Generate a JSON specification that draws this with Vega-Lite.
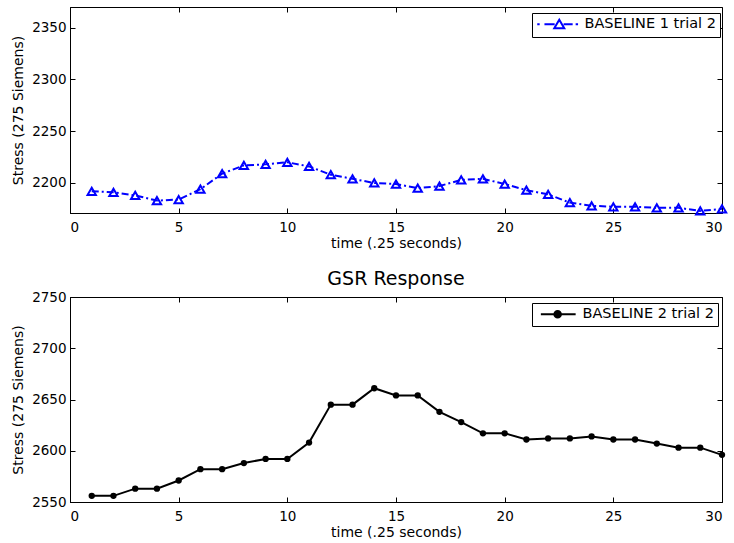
{
  "$schema": "https://vega.github.io/schema/vega-lite/v6.json",
  "background": "white",
  "padding": {"left": 11, "top": 6, "right": 5, "bottom": 5},
  "datasets": {
    "b1": [
      {"t": 1, "stress": 2192, "series": "BASELINE 1 trial 2"},
      {"t": 2, "stress": 2191, "series": "BASELINE 1 trial 2"},
      {"t": 3, "stress": 2188, "series": "BASELINE 1 trial 2"},
      {"t": 4, "stress": 2183, "series": "BASELINE 1 trial 2"},
      {"t": 5, "stress": 2184, "series": "BASELINE 1 trial 2"},
      {"t": 6, "stress": 2194, "series": "BASELINE 1 trial 2"},
      {"t": 7, "stress": 2209, "series": "BASELINE 1 trial 2"},
      {"t": 8, "stress": 2217, "series": "BASELINE 1 trial 2"},
      {"t": 9, "stress": 2218, "series": "BASELINE 1 trial 2"},
      {"t": 10, "stress": 2220, "series": "BASELINE 1 trial 2"},
      {"t": 11, "stress": 2216, "series": "BASELINE 1 trial 2"},
      {"t": 12, "stress": 2208, "series": "BASELINE 1 trial 2"},
      {"t": 13, "stress": 2204, "series": "BASELINE 1 trial 2"},
      {"t": 14, "stress": 2200, "series": "BASELINE 1 trial 2"},
      {"t": 15, "stress": 2199, "series": "BASELINE 1 trial 2"},
      {"t": 16, "stress": 2195, "series": "BASELINE 1 trial 2"},
      {"t": 17, "stress": 2197, "series": "BASELINE 1 trial 2"},
      {"t": 18, "stress": 2203, "series": "BASELINE 1 trial 2"},
      {"t": 19, "stress": 2204, "series": "BASELINE 1 trial 2"},
      {"t": 20, "stress": 2199, "series": "BASELINE 1 trial 2"},
      {"t": 21, "stress": 2193, "series": "BASELINE 1 trial 2"},
      {"t": 22, "stress": 2189, "series": "BASELINE 1 trial 2"},
      {"t": 23, "stress": 2181, "series": "BASELINE 1 trial 2"},
      {"t": 24, "stress": 2178, "series": "BASELINE 1 trial 2"},
      {"t": 25, "stress": 2177, "series": "BASELINE 1 trial 2"},
      {"t": 26, "stress": 2177, "series": "BASELINE 1 trial 2"},
      {"t": 27, "stress": 2176, "series": "BASELINE 1 trial 2"},
      {"t": 28, "stress": 2176, "series": "BASELINE 1 trial 2"},
      {"t": 29, "stress": 2173, "series": "BASELINE 1 trial 2"},
      {"t": 30, "stress": 2175, "series": "BASELINE 1 trial 2"}
    ],
    "b2": [
      {"t": 1, "stress": 2556, "series": "BASELINE 2 trial 2"},
      {"t": 2, "stress": 2556, "series": "BASELINE 2 trial 2"},
      {"t": 3, "stress": 2563, "series": "BASELINE 2 trial 2"},
      {"t": 4, "stress": 2563, "series": "BASELINE 2 trial 2"},
      {"t": 5, "stress": 2571, "series": "BASELINE 2 trial 2"},
      {"t": 6, "stress": 2582, "series": "BASELINE 2 trial 2"},
      {"t": 7, "stress": 2582, "series": "BASELINE 2 trial 2"},
      {"t": 8, "stress": 2588, "series": "BASELINE 2 trial 2"},
      {"t": 9, "stress": 2592, "series": "BASELINE 2 trial 2"},
      {"t": 10, "stress": 2592, "series": "BASELINE 2 trial 2"},
      {"t": 11, "stress": 2608, "series": "BASELINE 2 trial 2"},
      {"t": 12, "stress": 2645, "series": "BASELINE 2 trial 2"},
      {"t": 13, "stress": 2645, "series": "BASELINE 2 trial 2"},
      {"t": 14, "stress": 2661, "series": "BASELINE 2 trial 2"},
      {"t": 15, "stress": 2654, "series": "BASELINE 2 trial 2"},
      {"t": 16, "stress": 2654, "series": "BASELINE 2 trial 2"},
      {"t": 17, "stress": 2638, "series": "BASELINE 2 trial 2"},
      {"t": 18, "stress": 2628, "series": "BASELINE 2 trial 2"},
      {"t": 19, "stress": 2617, "series": "BASELINE 2 trial 2"},
      {"t": 20, "stress": 2617, "series": "BASELINE 2 trial 2"},
      {"t": 21, "stress": 2611, "series": "BASELINE 2 trial 2"},
      {"t": 22, "stress": 2612, "series": "BASELINE 2 trial 2"},
      {"t": 23, "stress": 2612, "series": "BASELINE 2 trial 2"},
      {"t": 24, "stress": 2614, "series": "BASELINE 2 trial 2"},
      {"t": 25, "stress": 2611, "series": "BASELINE 2 trial 2"},
      {"t": 26, "stress": 2611, "series": "BASELINE 2 trial 2"},
      {"t": 27, "stress": 2607, "series": "BASELINE 2 trial 2"},
      {"t": 28, "stress": 2603, "series": "BASELINE 2 trial 2"},
      {"t": 29, "stress": 2603, "series": "BASELINE 2 trial 2"},
      {"t": 30, "stress": 2596, "series": "BASELINE 2 trial 2"}
    ]
  },
  "resolve": {"scale": {"color": "independent"}, "legend": {"color": "independent"}},
  "spacing": 18,
  "vconcat": [
    {
      "width": 652,
      "height": 206,
      "data": {"name": "b1"},
      "resolve": {"axis": {"x": "independent", "y": "independent"}},
      "encoding": {
        "color": {
          "field": "series",
          "type": "nominal",
          "scale": {"domain": ["BASELINE 1 trial 2"], "range": ["#0000ff"]},
          "legend": {
            "title": null,
            "orient": "none",
            "legendX": 462,
            "legendY": 6,
            "padding": 4,
            "strokeColor": "black",
            "fillColor": "white",
            "cornerRadius": 0,
            "labelFont": "DejaVu Sans",
            "labelFontSize": 14.5,
            "labelColor": "black",
            "labelOffset": 34,
            "symbolSize": 144,
            "symbolStrokeWidth": 2,
            "symbolType": "M-1,0H-0.6M0.2,0H1.9M3.4,0H4.9M5.4,0H5.8M2.67,-0.75L3.5,0.65L1.84,0.65Z",
            "encode": {
              "symbols": {
                "update": {
                  "fill": {"value": "transparent"},
                  "stroke": {"value": "#0000ff"},
                  "strokeDash": {"value": []},
                  "opacity": {"value": 1}
                }
              }
            }
          }
        }
      },
      "layer": [
        {
          "mark": {"type": "line", "strokeWidth": 2, "strokeDash": [7, 3, 2, 3]},
          "encoding": {
            "x": {
              "field": "t",
              "type": "quantitative",
              "scale": {"domain": [0, 30], "nice": false, "zero": false},
              "axis": {"orient": "bottom", "values": [0, 5, 10, 15, 20, 25, 30], "format": "d", "title": "time (.25 seconds)"}
            },
            "y": {
              "field": "stress",
              "type": "quantitative",
              "scale": {"domain": [2171, 2370], "nice": false, "zero": false},
              "axis": {"orient": "left", "values": [2200, 2250, 2300, 2350], "format": "d", "title": "Stress (275 Siemens)"}
            }
          }
        },
        {
          "mark": {"type": "point", "shape": "triangle-up", "filled": false, "strokeWidth": 2, "size": 70, "opacity": 1},
          "encoding": {
            "x": {
              "field": "t",
              "type": "quantitative",
              "scale": {"domain": [0, 30], "nice": false, "zero": false},
              "axis": {"orient": "top", "values": [0, 5, 10, 15, 20, 25, 30], "labels": false, "title": null, "domain": false}
            },
            "y": {
              "field": "stress",
              "type": "quantitative",
              "scale": {"domain": [2171, 2370], "nice": false, "zero": false},
              "axis": {"orient": "right", "values": [2200, 2250, 2300, 2350], "labels": false, "title": null, "domain": false}
            }
          }
        }
      ]
    },
    {
      "width": 652,
      "height": 205,
      "title": {"text": "GSR Response", "font": "DejaVu Sans", "fontSize": 19, "fontWeight": "normal", "color": "black", "offset": 1},
      "data": {"name": "b2"},
      "resolve": {"axis": {"x": "independent", "y": "independent"}},
      "encoding": {
        "color": {
          "field": "series",
          "type": "nominal",
          "scale": {"domain": ["BASELINE 2 trial 2"], "range": ["black"]},
          "legend": {
            "title": null,
            "orient": "none",
            "legendX": 462,
            "legendY": 6,
            "padding": 4,
            "strokeColor": "black",
            "fillColor": "white",
            "cornerRadius": 0,
            "labelFont": "DejaVu Sans",
            "labelFontSize": 14.5,
            "labelColor": "black",
            "labelOffset": 32,
            "symbolSize": 144,
            "symbolStrokeWidth": 2,
            "symbolType": "M-0.4,0H5.4M2.95,0A0.55,0.55,0,1,1,1.85,0A0.55,0.55,0,1,1,2.95,0Z",
            "encode": {
              "symbols": {
                "update": {
                  "fill": {"value": "black"},
                  "stroke": {"value": "black"},
                  "strokeDash": {"value": []},
                  "opacity": {"value": 1}
                }
              }
            }
          }
        }
      },
      "layer": [
        {
          "mark": {"type": "line", "strokeWidth": 2},
          "encoding": {
            "x": {
              "field": "t",
              "type": "quantitative",
              "scale": {"domain": [0, 30], "nice": false, "zero": false},
              "axis": {"orient": "bottom", "values": [0, 5, 10, 15, 20, 25, 30], "format": "d", "title": "time (.25 seconds)"}
            },
            "y": {
              "field": "stress",
              "type": "quantitative",
              "scale": {"domain": [2550, 2750], "nice": false, "zero": false},
              "axis": {"orient": "left", "values": [2550, 2600, 2650, 2700, 2750], "format": "d", "title": "Stress (275 Siemens)"}
            }
          }
        },
        {
          "mark": {"type": "point", "shape": "circle", "filled": true, "size": 40, "opacity": 1},
          "encoding": {
            "x": {
              "field": "t",
              "type": "quantitative",
              "scale": {"domain": [0, 30], "nice": false, "zero": false},
              "axis": {"orient": "top", "values": [0, 5, 10, 15, 20, 25, 30], "labels": false, "title": null, "domain": false}
            },
            "y": {
              "field": "stress",
              "type": "quantitative",
              "scale": {"domain": [2550, 2750], "nice": false, "zero": false},
              "axis": {"orient": "right", "values": [2550, 2600, 2650, 2700, 2750], "labels": false, "title": null, "domain": false}
            }
          }
        }
      ]
    }
  ],
  "config": {
    "view": {"stroke": "black", "strokeWidth": 1},
    "axis": {
      "grid": false,
      "domainColor": "black",
      "domainWidth": 1,
      "tickColor": "black",
      "tickSize": -5,
      "tickWidth": 1,
      "labelFont": "DejaVu Sans",
      "labelFontSize": 13.5,
      "labelColor": "black",
      "titleFont": "DejaVu Sans",
      "titleFontSize": 14,
      "titleFontWeight": "normal",
      "titleColor": "black"
    },
    "axisX": {"labelPadding": 12, "titlePadding": 3},
    "axisY": {"labelPadding": 9, "titlePadding": 6}
  }
}
